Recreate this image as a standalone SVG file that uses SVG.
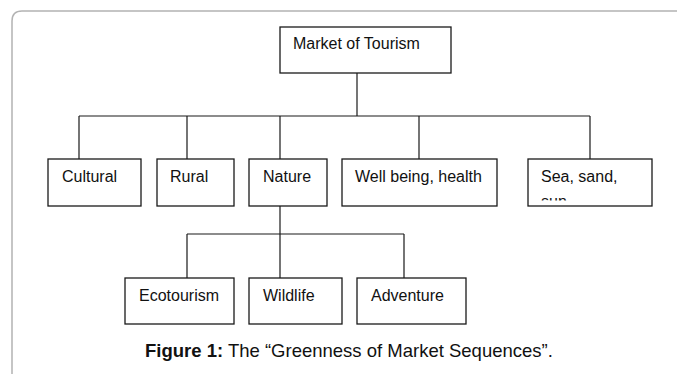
<svg xmlns="http://www.w3.org/2000/svg" width="677" height="374" viewBox="0 0 677 374">
<defs>
<style>
.box{fill:#fff;stroke:#1a1a1a;stroke-width:1.3}
.lbl{font-family:"Liberation Sans",Arial,sans-serif;font-size:16px;fill:#111}
.cn{fill:none;stroke:#1a1a1a;stroke-width:1.2}
.cap{font-family:"Liberation Sans",Arial,sans-serif;font-size:18.5px;fill:#111}
</style>
<clipPath id="seaclip"><rect x="528" y="159" width="124" height="41.5"/></clipPath>
</defs>
<rect x="0" y="0" width="677" height="374" fill="#fff"/>
<path d="M12,374 V21 Q12,11 22,11 H677" fill="none" stroke="#b3b3b3" stroke-width="1.5"/>
<g id="connectors">
<path class="cn" d="M357,73 V116"/>
<path class="cn" d="M79,116 H590"/>
<path class="cn" d="M79,116 V159 M187,116 V159 M280,116 V159 M419,116 V159 M590,116 V159"/>
<path class="cn" d="M280,206 V234"/>
<path class="cn" d="M187,234 H404"/>
<path class="cn" d="M187,234 V278 M280,234 V278 M404,234 V278"/>
</g>
<g id="root"><rect class="box" x="280" y="27" width="171" height="46"/><text class="lbl" x="293" y="49">Market of Tourism</text></g>
<g id="cultural"><rect class="box" x="48" y="159" width="93" height="47"/><text class="lbl" x="62" y="182">Cultural</text></g>
<g id="rural"><rect class="box" x="157" y="159" width="77" height="47"/><text class="lbl" x="170" y="182">Rural</text></g>
<g id="nature"><rect class="box" x="249" y="159" width="78" height="47"/><text class="lbl" x="263" y="182">Nature</text></g>
<g id="wellbeing"><rect class="box" x="342" y="159" width="155" height="47"/><text class="lbl" x="355" y="182">Well being, health</text></g>
<g id="sea"><rect class="box" x="528" y="159" width="124" height="47"/><text class="lbl" x="541" y="182">Sea, sand,</text><text class="lbl" x="541" y="207" clip-path="url(#seaclip)">sun</text></g>
<g id="ecotourism"><rect class="box" x="125" y="278" width="109" height="46"/><text class="lbl" x="139" y="301">Ecotourism</text></g>
<g id="wildlife"><rect class="box" x="249" y="278" width="93" height="46"/><text class="lbl" x="263" y="301">Wildlife</text></g>
<g id="adventure"><rect class="box" x="357" y="278" width="109" height="46"/><text class="lbl" x="371" y="301">Adventure</text></g>
<text class="cap" x="145" y="357"><tspan font-weight="bold">Figure 1:</tspan> The “Greenness of Market Sequences”.</text>
</svg>
